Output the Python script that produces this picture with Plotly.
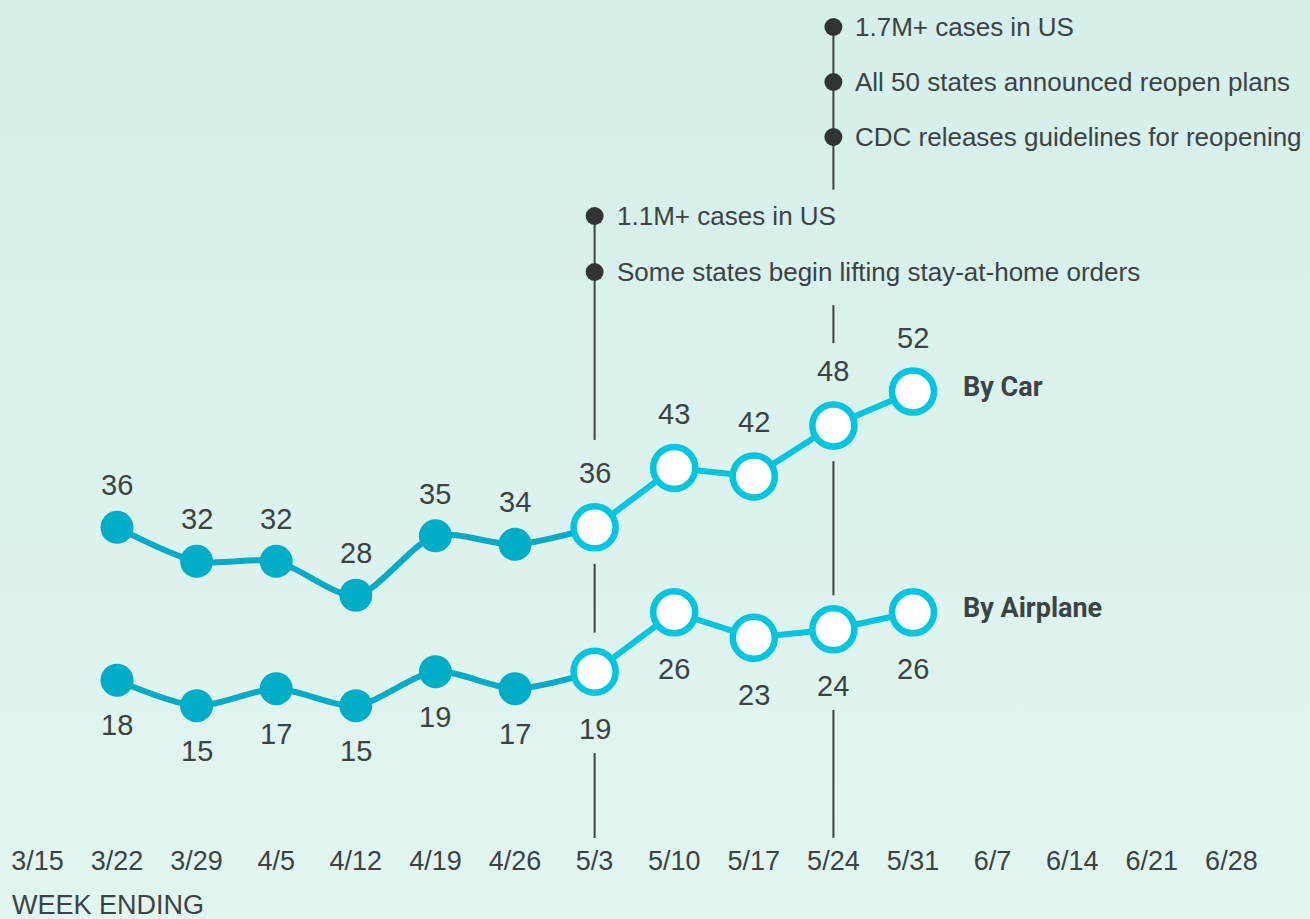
import plotly.graph_objects as go

# ---------------- data ----------------
weeks = ["3/15", "3/22", "3/29", "4/5", "4/12", "4/19", "4/26", "5/3",
         "5/10", "5/17", "5/24", "5/31", "6/7", "6/14", "6/21", "6/28"]
data_weeks = ["3/22", "3/29", "4/5", "4/12", "4/19", "4/26", "5/3",
              "5/10", "5/17", "5/24", "5/31"]
car = [36, 32, 32, 28, 35, 34, 36, 43, 42, 48, 52]
air = [18, 15, 17, 15, 19, 17, 19, 26, 23, 24, 26]
split = 6  # index of first "reopening" week (5/3)

events_0503 = ["1.1M+ cases in US", "Some states begin lifting stay-at-home orders"]
events_0524 = ["1.7M+ cases in US", "All 50 states announced reopen plans",
               "CDC releases guidelines for reopening"]
event_week_a = "5/3"
event_week_b = "5/24"

# ---------------- styles ----------------
TEAL = "#00adc6"
TEAL_LINE = "#05abc4"
CYAN = "#00c5df"
DARK = "#3b4343"
FONT = "Liberation Sans Narrow, Liberation Sans, Arial, sans-serif"
BOLD = "Roboto, Liberation Sans, sans-serif"
W, H = 1310, 919
FS = 27
FS_EV = 26

px_per_unit = 8.49
zero_px = 833
axis_px = 842

fig = go.Figure()

# gradient background on full-paper helper axes (x / y)
fig.add_trace(go.Scatter(
    x=[0, 1, 1, 0, 0], y=[0, 0, 1, 1, 0], mode="lines", fill="toself",
    line=dict(width=0), hoverinfo="skip", showlegend=False,
    fillgradient=dict(type="vertical", start=0, stop=1,
                      colorscale=[[0, "#e3f5f1"], [1, "#d5efea"]]),
    xaxis="x", yaxis="y"))

# ---------------- event lines ----------------
ia = data_weeks.index(event_week_a)
ib = data_weeks.index(event_week_b)
top_a = (zero_px - 216) / px_per_unit
step_a = 56 / px_per_unit
top_b = (zero_px - 27) / px_per_unit
step_b = 55 / px_per_unit
bullets_a = [top_a - k * step_a for k in range(len(events_0503))]
bullets_b = [top_b - k * step_b for k in range(len(events_0524))]
bottom = -(838 - zero_px) / px_per_unit


def segs(top, gaps):
    ys = []
    cur = top
    for lo, hi in sorted(gaps, key=lambda g: -g[1]):
        ys += [cur, hi, None]
        cur = lo
    ys += [cur, bottom]
    return ys


ya = segs(top_a, [(car[ia] - 4.3, car[ia] + 10.3), (air[ia] - 9.6, air[ia] + 4.6)])
yb = segs(top_b, [(min(bullets_a) - 3.9, top_a + 3.1),
                  (car[ib] - 4.2, car[ib] + 9.7), (air[ib] - 9.5, air[ib] + 4.0)])
for wk, ys in [(event_week_a, ya), (event_week_b, yb)]:
    fig.add_trace(go.Scatter(
        x=[wk if v is not None else None for v in ys], y=ys, mode="lines",
        line=dict(color=DARK, width=2), connectgaps=False, hoverinfo="skip",
        showlegend=False, xaxis="x2", yaxis="y2"))

for wk, ys, texts in [(event_week_a, bullets_a, events_0503), (event_week_b, bullets_b, events_0524)]:
    fig.add_trace(go.Scatter(
        x=[wk] * len(ys), y=ys, mode="markers",
        marker=dict(color="#2f3535", size=18), hoverinfo="skip",
        showlegend=False, xaxis="x2", yaxis="y2"))
    for yv, t in zip(ys, texts):
        fig.add_annotation(x=wk, y=yv, xref="x2", yref="y2", text=t,
                           showarrow=False, xanchor="left", yanchor="middle",
                           xshift=20, font=dict(family=FONT, size=FS_EV, color=DARK))

# ---------------- series ----------------
for vals in (car, air):
    fig.add_trace(go.Scatter(
        x=data_weeks[:split + 1], y=vals[:split + 1], mode="lines",
        line=dict(color=TEAL_LINE, width=6, shape="spline", smoothing=0.8),
        hoverinfo="skip", showlegend=False, xaxis="x2", yaxis="y2"))
    fig.add_trace(go.Scatter(
        x=data_weeks[:split], y=vals[:split], mode="markers",
        marker=dict(color=TEAL, size=33, line=dict(width=0)),
        hoverinfo="skip", showlegend=False, xaxis="x2", yaxis="y2"))
    fig.add_trace(go.Scatter(
        x=data_weeks[split:], y=vals[split:], mode="lines+markers",
        line=dict(color=CYAN, width=6),
        marker=dict(color="white", size=42, line=dict(color=CYAN, width=6.5)),
        hoverinfo="skip", showlegend=False, xaxis="x2", yaxis="y2"))

# value labels
for i, wk in enumerate(data_weeks):
    hollow = i >= split
    fig.add_annotation(x=wk, y=car[i], xref="x2", yref="y2", text=str(car[i]),
                       showarrow=False, yshift=54 if hollow else 42,
                       font=dict(family=FONT, size=FS + 2, color=DARK))
    fig.add_annotation(x=wk, y=air[i], xref="x2", yref="y2", text=str(air[i]),
                       showarrow=False, yshift=-57 if hollow else -45,
                       font=dict(family=FONT, size=FS + 2, color=DARK))

# series names
for name, vals, ys in [("By Car", car, 5), ("By Airplane", air, 4)]:
    fig.add_annotation(x=data_weeks[-1], y=vals[-1], xref="x2", yref="y2",
                       text="<b>" + name + "</b>", showarrow=False,
                       xanchor="left", yanchor="middle", xshift=48, yshift=ys,
                       font=dict(family=BOLD, size=27, color=DARK))

fig.add_annotation(x=10 / W, y=(919 - 905) / H, xref="paper", yref="paper",
                   text="WEEK ENDING", showarrow=False, xanchor="left",
                   yanchor="middle", font=dict(family=FONT, size=FS, color=DARK))

# ---------------- layout ----------------
y_lo = -(axis_px - zero_px) / px_per_unit
y_hi = zero_px / px_per_unit

fig.update_layout(
    width=W, height=H,
    margin=dict(l=0, r=0, t=0, b=0),
    paper_bgcolor="#dcf2ed", plot_bgcolor="rgba(0,0,0,0)",
    showlegend=False,
    xaxis=dict(domain=[0, 1], range=[0, 1], visible=False, fixedrange=True),
    yaxis=dict(domain=[0, 1], range=[0, 1], visible=False, fixedrange=True),
    xaxis2=dict(domain=[0, (37.4 + 15.5 * 79.6) / W], anchor="y2",
                type="category", categoryorder="array", categoryarray=weeks,
                tickvals=weeks, range=[-0.47, 15.5], showgrid=False,
                zeroline=False, showline=False, ticks="",
                tickfont=dict(family=FONT, size=FS, color=DARK)),
    yaxis2=dict(domain=[(H - axis_px) / H, 1], anchor="x2", range=[y_lo, y_hi],
                visible=False, showgrid=False, zeroline=False),
)

fig.write_html("out.html", config={"displayModeBar": False},
               post_script="document.body.style.margin='0';document.body.style.overflow='hidden';")
